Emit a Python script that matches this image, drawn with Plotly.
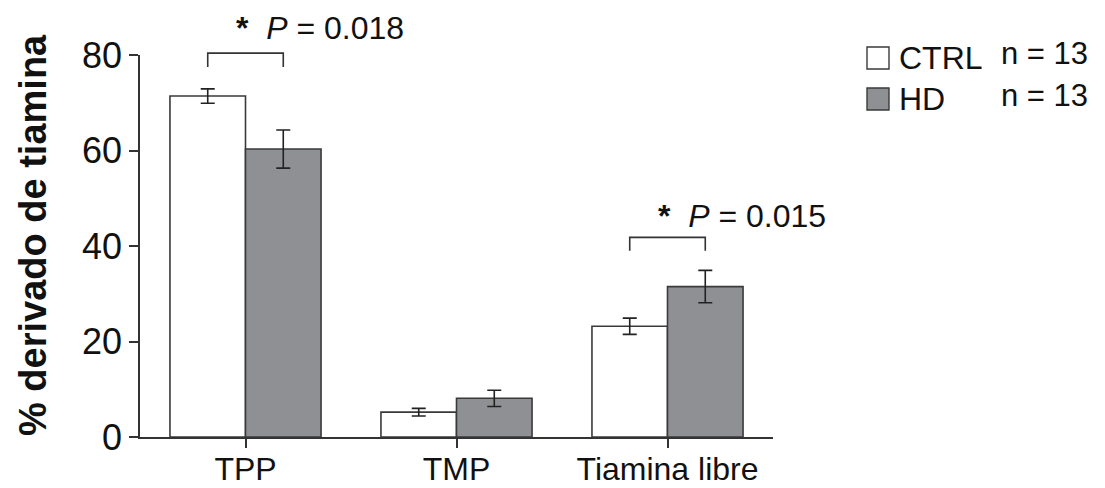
import plotly.graph_objects as go

categories = ["TPP", "TMP", "Tiamina libre"]
ctrl_vals = [71.4, 5.2, 23.2]
ctrl_err = [1.5, 0.8, 1.7]
hd_vals = [60.3, 8.1, 31.5]
hd_err = [4.0, 1.7, 3.4]
series_names = ["CTRL", "HD"]
n_labels = ["n = 13", "n = 13"]
y_ticks = [0, 20, 40, 60, 80]
# significance brackets: (category index, bracket top, leg bottom, text y, label)
sig_cat = [0, 2]
sig_top = [80.4, 41.8]
sig_leg = [77.5, 39.0]
sig_text_y = [85.6, 46.2]
sig_p = ["0.018", "0.015"]

FONT = "Liberation Sans, Arial, sans-serif"
EDGE = "#3a3a3a"
HD_FILL = "#8e9094"
BARGAP = 0.284
half = (1 - BARGAP) / 4  # offset of each bar centre from category centre
Y_MAX = 80

# plot area in page pixels (page has an 8px body offset)
PX0, PW = 140, 633
PY0, PH = 437, 382


def px_x(p):
    return (p - PX0) / PW


def px_y(p):
    return (PY0 - p) / PH


fig = go.Figure()
fig.add_trace(go.Bar(
    x=list(range(len(categories))), y=ctrl_vals, name=series_names[0],
    marker=dict(color="white", line=dict(color=EDGE, width=1.6)),
    error_y=dict(type="data", array=ctrl_err, color="#222", thickness=1.6, width=7),
    showlegend=False,
))
fig.add_trace(go.Bar(
    x=list(range(len(categories))), y=hd_vals, name=series_names[1],
    marker=dict(color=HD_FILL, line=dict(color=EDGE, width=1.6)),
    error_y=dict(type="data", array=hd_err, color="#222", thickness=1.6, width=7),
    showlegend=False,
))

shapes = []
annotations = []
for ci, top, leg, ty, p in zip(sig_cat, sig_top, sig_leg, sig_text_y, sig_p):
    x0 = ci - half
    x1 = ci + half
    yt = top / Y_MAX
    yl = leg / Y_MAX
    shapes.append(dict(type="path", xref="x", yref="paper",
                       path=f"M {x0},{yl} L {x0},{yt} L {x1},{yt} L {x1},{yl}",
                       line=dict(color="#333", width=1.6)))
    annotations.append(dict(x=ci - 0.055, y=ty / Y_MAX, xref="x", yref="paper", xanchor="left",
                            yanchor="middle", showarrow=False,
                            text=f"<b>*</b>  <i>P</i> = {p}",
                            font=dict(family=FONT, size=32, color="#111")))

# legend (drawn manually to match the large swatches)
leg_y_px = [58, 99]
leg_fill = ["white", HD_FILL]
for name, nl, ypx, fill in zip(series_names, n_labels, leg_y_px, leg_fill):
    shapes.append(dict(type="rect", xref="paper", yref="paper",
                       x0=px_x(867), x1=px_x(889),
                       y0=px_y(ypx + 11), y1=px_y(ypx - 11),
                       fillcolor=fill, line=dict(color=EDGE, width=1.4)))
    annotations.append(dict(x=px_x(897), y=px_y(ypx), xref="paper", yref="paper",
                            xanchor="left", yanchor="middle", showarrow=False, text=name,
                            font=dict(family=FONT, size=32, color="#111")))
    annotations.append(dict(x=px_x(999), y=px_y(ypx - 4), xref="paper", yref="paper",
                            xanchor="left", yanchor="middle", showarrow=False, text=nl,
                            font=dict(family=FONT, size=31, color="#111")))

# y-axis title
annotations.append(dict(x=px_x(33), y=px_y(235), xref="paper", yref="paper",
                        xanchor="center", yanchor="middle", showarrow=False, textangle=-90,
                        text="<b>% derivado de tiamina</b>",
                        font=dict(family=FONT, size=38, color="#111")))

fig.update_layout(
    width=1097, height=480,
    margin=dict(l=PX0 - 8, r=1097 - (PX0 - 8) - PW, t=PY0 - PH - 8, b=480 - (PY0 - 8),
                autoexpand=False),
    paper_bgcolor="white", plot_bgcolor="white",
    barmode="group", bargap=BARGAP, bargroupgap=0,
    shapes=shapes, annotations=annotations,
    font=dict(family=FONT, color="#111"),
)
fig.update_xaxes(
    tickmode="array", tickvals=list(range(len(categories))), ticktext=categories,
    range=[-0.5, len(categories) - 0.5],
    showline=True, linecolor="#333", linewidth=1.6,
    ticks="outside", tickson="boundaries", ticklen=9, tickwidth=1.5, tickcolor="#333",
    ticklabelstandoff=-6,
    showgrid=False, zeroline=False,
    tickfont=dict(family=FONT, size=32, color="#111"),
)
fig.update_yaxes(
    range=[0, Y_MAX], tickvals=y_ticks,
    showline=True, linecolor="#333", linewidth=1.6,
    ticks="outside", ticklen=9, tickwidth=1.5, tickcolor="#333",
    showgrid=False, zeroline=False,
    tickfont=dict(family=FONT, size=36, color="#111"),
)

fig.write_html("out.html")
